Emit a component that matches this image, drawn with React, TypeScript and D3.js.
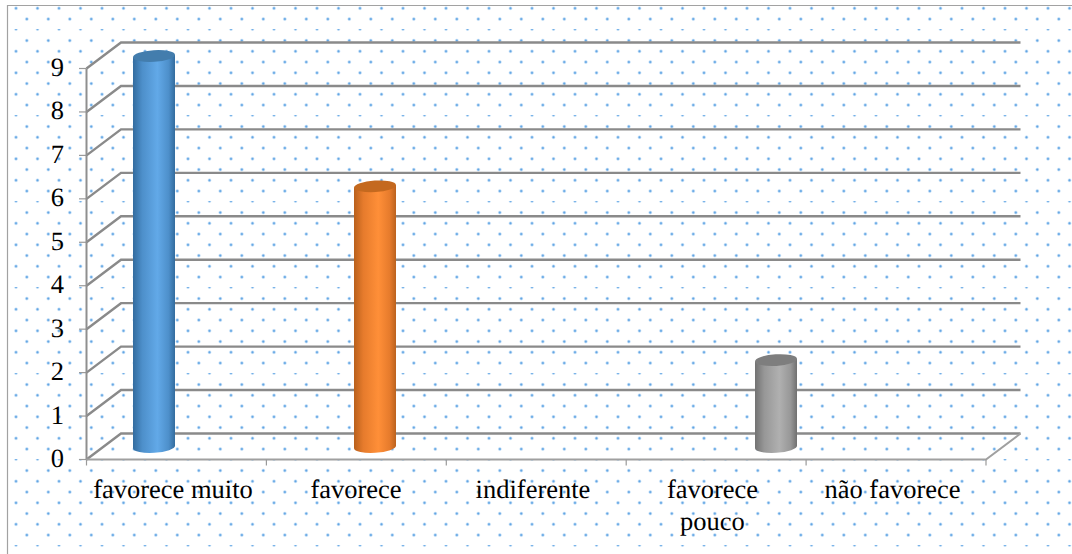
import React from "react";
import * as d3 from "d3";

const categories = ["favorece muito", "favorece", "indiferente", "favorece pouco", "não favorece"];
const values = [9, 6, 0, 2, 0];
const yTicks = [0, 1, 2, 3, 4, 5, 6, 7, 8, 9];
// Wrapped category labels, one entry per text line
const labelLines = [["favorece muito"], ["favorece"], ["indiferente"], ["favorece", "pouco"], ["não favorece"]];
const palettes = [
  { edgeL: "#336c9f", inner: "#4d8fca", mid: "#62a9e8", edgeR: "#336c9e", top: "#437dad" },
  { edgeL: "#b9601c", inner: "#e67b2c", mid: "#ff8f38", edgeR: "#bb621e", top: "#c4691f" },
  { edgeL: "#727272", inner: "#979797", mid: "#b0b0b0", edgeR: "#707070", top: "#7e7e7e" },
];
const barColourIndex = [0, 1, 0, 2, 0];

const W = 1072;
const H = 554;
const FONT = "'Liberation Serif', serif";
const GRID = "#8a8a8a";

// Plot frame: front wall runs left-right, the back wall is offset by the depth
const frontLeft = 86.5;
const frontRight = 986;
const depthX = 34.5;
const depthY = -26;
const y = d3.scaleLinear().domain([0, 9]).range([459.5, 68.5]);
const xBand = d3.scaleBand<string>().domain(categories).range([frontLeft, frontRight]);
const xBar = d3.scaleOrdinal<string, number>().domain(categories).range([154, 375, 575.5, 776, 976]);
const xLabel = d3.scaleOrdinal<string, number>().domain(categories).range([173, 356, 533, 712.5, 892.5]);

const barRx = 21;
const barRy = 5.8;
const tilt = -3.5;
const barCentreY = (v: number) => y(v) - 12.5;

// Background dot lattice: staggered rows, every eighth row is squashed
const rowStep = 10.75;
const colStep = 21.5;
const rows = d3.range(0, 51);
const cols = d3.range(0, 51);

function Cylinder({ cx, value, idx }: { cx: number; value: number; idx: number }) {
  const top = barCentreY(value);
  const base = barCentreY(0);
  const dy = Math.tan((-tilt * Math.PI) / 180) * barRx;
  const side = `M${cx - barRx},${top + dy} L${cx - barRx},${base + dy}
    A${barRx},${barRy} ${tilt} 0 0 ${cx + barRx},${base - dy}
    L${cx + barRx},${top - dy} Z`;
  return (
    <g>
      <path d={side} fill={`url(#cyl${idx})`} />
      <ellipse
        cx={cx}
        cy={top}
        rx={barRx}
        ry={barRy}
        fill={palettes[idx].top}
        transform={`rotate(${tilt} ${cx} ${top})`}
      />
    </g>
  );
}

export default function App() {
  return (
    <svg
      width={W}
      height={H}
      viewBox={`0 0 ${W} ${H}`}
      style={{ position: "absolute", left: 0, top: 0, display: "block", background: "#fff" }}
      fontFamily={FONT}
      textRendering="geometricPrecision"
    >
      <defs>
        <radialGradient id="dot">
          <stop offset="0%" stopColor="#5b9fe0" />
          <stop offset="35%" stopColor="#7db6ea" />
          <stop offset="100%" stopColor="#e4f0fb" stopOpacity={0.1} />
        </radialGradient>
        {palettes.map((p, i) => (
          <linearGradient id={`cyl${i}`} key={i} x1="0" x2="1" y1="0" y2="0">
            <stop offset="0%" stopColor={p.edgeL} />
            <stop offset="22%" stopColor={p.inner} />
            <stop offset="58%" stopColor={p.mid} />
            <stop offset="85%" stopColor={p.inner} />
            <stop offset="100%" stopColor={p.edgeR} />
          </linearGradient>
        ))}
      </defs>

      {rows.map((r) =>
        cols.map((c) => {
          const cy = 8.3 + r * rowStep;
          const cx = (r % 2 === 0 ? 16 : 26.8) + c * colStep;
          if (cx > W + 3 || cy > H + 3) return null;
          return (
            <ellipse
              key={`${r}-${c}`}
              cx={cx}
              cy={cy}
              rx={2.4}
              ry={r % 8 === 2 ? 1.2 : 2.4}
              fill="url(#dot)"
            />
          );
        })
      )}

      {/* outer frame: only the top and left edges show */}
      <path d={`M7.5,${H} L7.5,5.5 L${W},5.5`} fill="none" stroke="#a2a2a2" strokeWidth={1.2} />

      {/* back wall and side wall gridlines */}
      {yTicks.map((t) => (
        <g key={t} fill="none" stroke={GRID} strokeWidth={2.4}>
          <path d={`M${frontLeft},${y(t)} L${frontLeft + depthX},${y(t) + depthY} L${frontRight + depthX},${y(t) + depthY}`} />
          <line x1={79} x2={frontLeft} y1={y(t)} y2={y(t)} strokeWidth={1.2} stroke="#9a9a9a" />
        </g>
      ))}

      {/* side wall axis and floor */}
      <line x1={frontLeft} x2={frontLeft} y1={y(9)} y2={y(0)} stroke="#8f8f8f" strokeWidth={2} />
      <path
        d={`M${frontLeft},${y(0)} L${frontRight},${y(0)} L${frontRight + depthX},${y(0) + depthY}`}
        fill="none"
        stroke="#a0a0a0"
        strokeWidth={2}
      />
      {[...categories.map((c) => xBand(c) as number), frontRight].map((tx, i) => (
        <line key={i} x1={tx} x2={tx} y1={y(0)} y2={y(0) + 6} stroke="#9a9a9a" strokeWidth={1.2} />
      ))}

      {categories.map((c, i) =>
        values[i] > 0 ? (
          <Cylinder key={c} cx={xBar(c) as number} value={values[i]} idx={barColourIndex[i]} />
        ) : null
      )}

      {yTicks.map((t) => (
        <text key={t} x={64} y={y(t) + 7.5} textAnchor="end" fontSize={26.5} fill="#000">
          {t}
        </text>
      ))}

      {categories.map((c, i) => (
        <text key={c} textAnchor="middle" fontSize={26.5} fill="#000">
          {labelLines[i].map((line, j) => (
            <tspan key={j} x={xLabel(c)} y={498 + j * 32}>
              {line}
            </tspan>
          ))}
        </text>
      ))}
    </svg>
  );
}
